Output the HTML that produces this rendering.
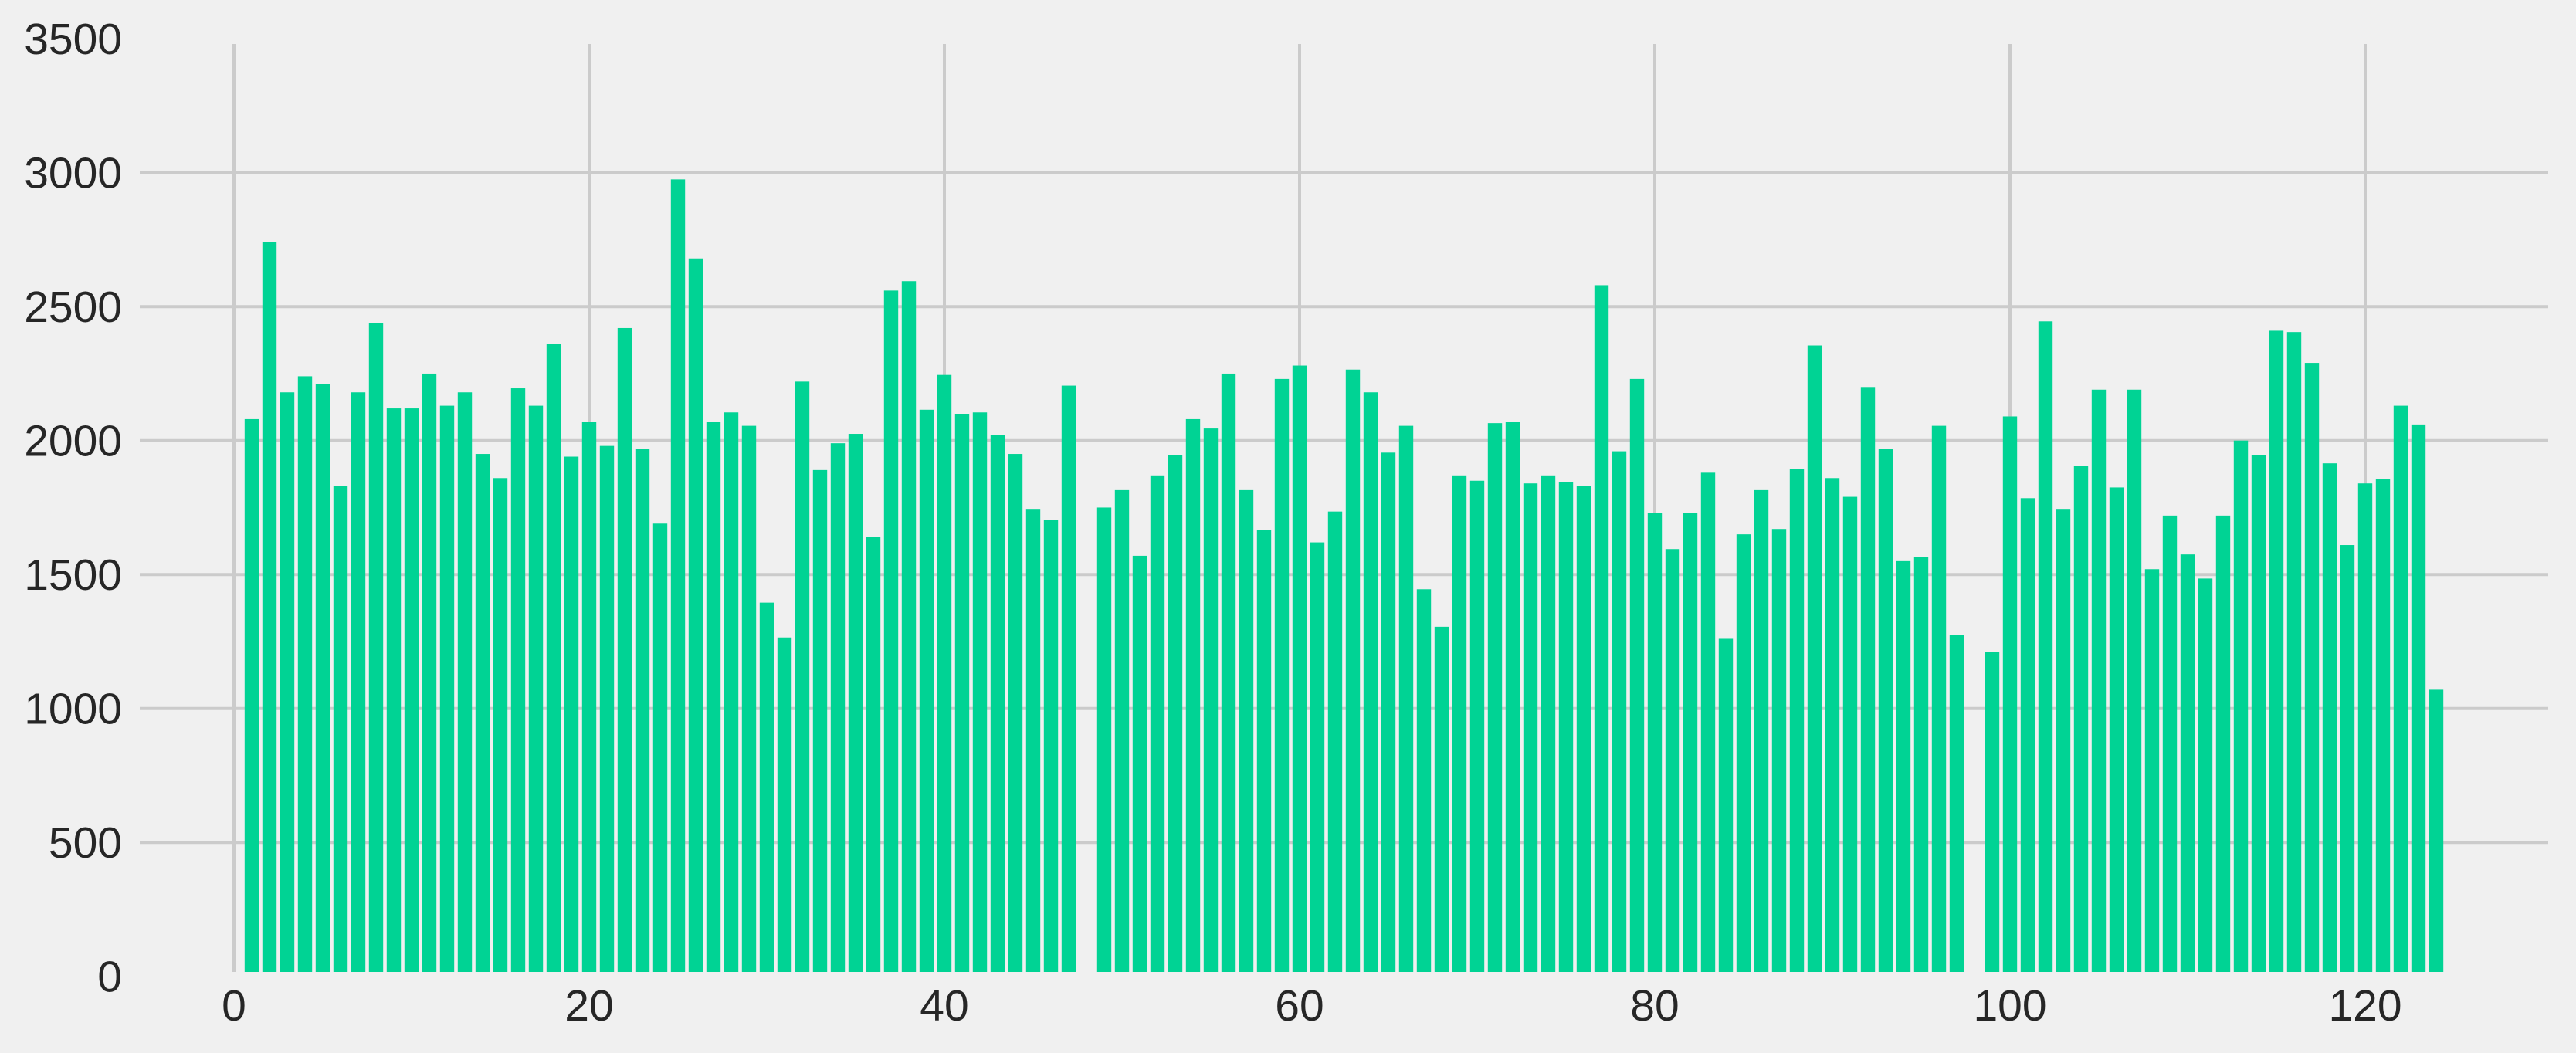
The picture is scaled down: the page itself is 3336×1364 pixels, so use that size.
<!DOCTYPE html>
<html><head><meta charset="utf-8"><style>
html,body{margin:0;padding:0;background:#f0f0f0;}
svg{display:block;font-family:"Liberation Sans",sans-serif;}
</style></head><body>
<svg id="chart" width="3336" height="1364" viewBox="0 0 3336 1364" xmlns="http://www.w3.org/2000/svg">
<rect x="0" y="0" width="3336" height="1364" fill="#f0f0f0"/>
<g id="grid"></g>
<g id="bars"></g>
<g id="labels"></g>
</svg>
<script>
const categories = [];
for (let i = 1; i <= 124; i++) categories.push(i);
const values = [2080,2740,2180,2240,2210,1830,2180,2440,2120,2120,2250,2130,2180,1950,1860,2195,2130,2360,1940,2070,1980,2420,1970,1690,2975,2680,2070,2105,2055,1395,1265,2220,1890,1990,2025,1640,2560,2595,2115,2245,2100,2105,2020,1950,1745,1705,2205,0,1750,1815,1570,1870,1945,2080,2045,2250,1815,1665,2230,2280,1620,1735,2265,2180,1955,2055,1445,1305,1870,1850,2065,2070,1840,1870,1845,1830,2580,1960,2230,1730,1595,1730,1880,1260,1650,1815,1670,1895,2355,1860,1790,2200,1970,1550,1565,2055,1275,0,1210,2090,1785,2445,1745,1905,2190,1825,2190,1520,1720,1575,1485,1720,2000,1945,2410,2405,2290,1915,1610,1840,1855,2130,2060,1070];
const xTicks = [0,20,40,60,80,100,120];
const yTicks = [0,500,1000,1500,2000,2500,3000,3500];

const NS = "http://www.w3.org/2000/svg";
const X0 = 303, XU = 23.0;
const Y0 = 1264.7, YU = 0.347;
const TOP = 57, BOT = 1259, LEFT = 181, RIGHT = 3300;
const xs = v => X0 + v * XU;
const ys = v => Y0 - v * YU;
function mk(tag, attrs, parent) {
  const e = document.createElementNS(NS, tag);
  for (const k in attrs) e.setAttribute(k, attrs[k]);
  parent.appendChild(e);
  return e;
}
const grid = document.getElementById('grid');
const bars = document.getElementById('bars');
const labels = document.getElementById('labels');

yTicks.forEach(t => {
  const y = ys(t);
  if (y >= TOP && y <= BOT) {
    const l = mk('line', {x1: LEFT, x2: RIGHT, y1: y, y2: y, stroke: '#cbcbcb', 'stroke-width': 4}, grid);
    
    
  }
  const tx = mk('text', {x: 158, y: Math.min(y, 1267) + 20, 'text-anchor': 'end', 'font-size': 57, fill: '#262626'}, labels);
  tx.textContent = t;
  
  
});
xTicks.forEach(t => {
  const x = xs(t);
  const l = mk('line', {x1: x, x2: x, y1: TOP, y2: BOT, stroke: '#cbcbcb', 'stroke-width': 4}, grid);
  
  
  const tx = mk('text', {x: x, y: 1322, 'text-anchor': 'middle', 'font-size': 57, fill: '#262626'}, labels);
  tx.textContent = t;
  
  
});
categories.forEach((c, i) => {
  const v = values[i];
  if (!v) return;
  const w = 0.8 * XU;
  const top = ys(v);
  const r = mk('rect', {x: xs(c) - w / 2, y: top, width: w, height: BOT - top, fill: '#00d394'}, bars);
  
  
});
</script>
</body></html>
